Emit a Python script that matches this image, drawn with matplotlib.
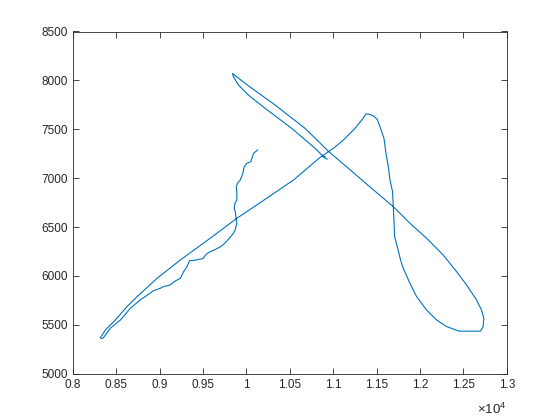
import numpy as np
import matplotlib.pyplot as plt

plt.rcParams['font.family'] = ['Liberation Sans', 'DejaVu Sans']
plt.rcParams['mathtext.fontset'] = 'custom'
plt.rcParams['mathtext.rm'] = 'Liberation Sans'

# path, in plotting order
xs = [10128, 10082, 10051, 10005, 9975, 9959, 9929, 9902, 9883, 9890, 9890,
      9867, 9860, 9875, 9883, 9890, 9871, 9844, 9813, 9767, 9729, 9691, 9630,
      9568, 9530, 9499, 9461, 9384, 9346, 9315, 9277, 9239, 9169, 9124, 9047,
      9009, 8932, 8863, 8778, 8663, 8549, 8433, 8349, 8326,
      8318, 8376, 8491, 8625, 8741, 8971, 9239, 9583, 9890, 10159, 10542,
      10849, 11002, 11117, 11251, 11328, 11378, 11405, 11462, 11508, 11539,
      11585, 11608, 11635, 11654, 11684, 11692, 11700, 11707, 11738, 11776,
      11807, 11884, 11960, 12075, 12190, 12306, 12451, 12574, 12697, 12727,
      12735, 12708, 12651, 12536, 12421, 12267, 12076, 11884, 11692, 11385,
      11150, 10945, 10677, 10332, 9986, 9840,
      9851, 9909, 10024, 10216, 10523, 10792, 10869, 10907, 10870, 10930]
ys = [7288, 7254, 7169, 7152, 7118, 7049, 6981, 6954, 6913, 6845, 6777,
      6743, 6692, 6641, 6573, 6539, 6471, 6430, 6396, 6351, 6317, 6294, 6266,
      6242, 6215, 6178, 6171, 6158, 6158, 6096, 6045, 5977, 5943, 5909, 5892,
      5875, 5851, 5807, 5756, 5670, 5551, 5466, 5364, 5361,
      5371, 5449, 5551, 5688, 5789, 5977, 6164, 6386, 6590, 6750, 6981,
      7213, 7305, 7390, 7509, 7594, 7656, 7656, 7639, 7601, 7526,
      7407, 7254, 7118, 6981, 6862, 6709, 6573, 6403, 6300, 6164,
      6079, 5926, 5790, 5653, 5551, 5483, 5436, 5436, 5436, 5483,
      5568, 5653, 5756, 5909, 6045, 6215, 6386, 6539, 6709, 6940,
      7120, 7275, 7509, 7747, 7969, 8071,
      8036, 7952, 7849, 7714, 7509, 7305, 7237, 7219, 7225, 7195]

xticks = np.arange(8000, 13001, 500)
xlabels = ['0.8', '0.85', '0.9', '0.95', '1', '1.05', '1.1', '1.15', '1.2', '1.25', '1.3']
yticks = np.arange(5000, 8501, 500)

fig = plt.figure(figsize=(5.6, 4.2), dpi=100)
ax = fig.add_axes([0.13, 0.11, 0.775, 0.815])
ax.plot(xs, ys, color='#0072BD', lw=0.8)

ax.set_xlim(8000, 13000)
ax.set_ylim(5000, 8500)
ax.set_xticks(xticks)
ax.set_xticklabels(xlabels)
ax.set_yticks(yticks)
ax.tick_params(direction='in', top=True, right=True, labelsize=8.5,
               colors='#262626', length=4, width=0.6)
for s in ax.spines.values():
    s.set_color('#262626')
    s.set_linewidth(0.6)
ax.text(1.0, -0.118, r'$\times\mathregular{10^{4}}$', transform=ax.transAxes,
        ha='right', va='baseline', fontsize=9.5, color='#262626')

fig.savefig('out.png', dpi=100)
